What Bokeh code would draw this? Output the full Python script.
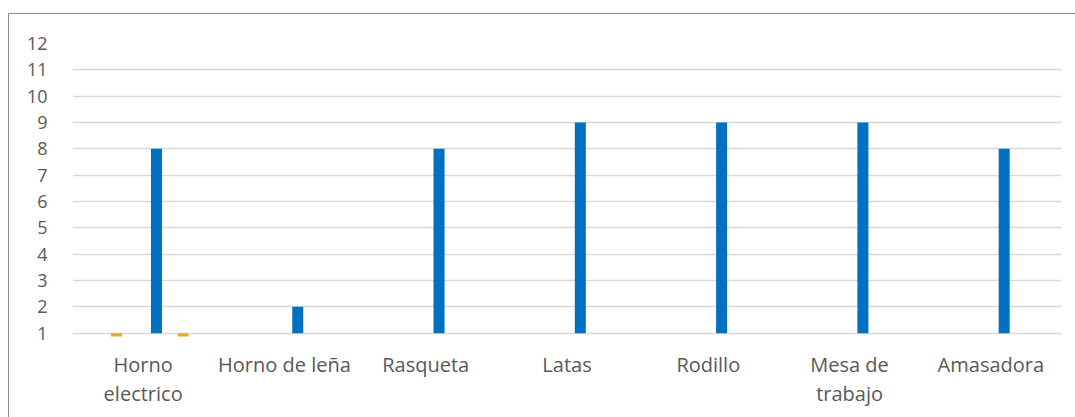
import math
from bokeh.plotting import figure
from bokeh.layouts import column
from bokeh.models import ColumnDataSource, FixedTicker, Range1d
from bokeh.core.properties import value
from bokeh.transform import dodge
from bokeh.embed import file_html
from bokeh.resources import INLINE

# ---- data ----
categories = ["Horno electrico", "Horno de leña", "Rasqueta", "Latas",
              "Rodillo", "Mesa de trabajo", "Amasadora"]
label_line1 = ["Horno", "Horno de leña", "Rasqueta", "Latas",
               "Rodillo", "Mesa de", "Amasadora"]
label_line2 = ["electrico", "", "", "", "", "trabajo", ""]
serie_a = [0, math.nan, math.nan, math.nan, math.nan, math.nan, math.nan]   # yellow, left
serie_b = [8, 2, 8, 9, 9, 9, 8]                                             # blue
serie_c = [0, math.nan, math.nan, math.nan, math.nan, math.nan, math.nan]   # yellow, right
y_ticks = list(range(1, 13))

src = ColumnDataSource(dict(cat=categories, a=serie_a, b=serie_b, c=serie_c,
                            l1=label_line1, l2=label_line2))

W = 1066
p = figure(x_range=categories, y_range=(0.875, 12),
           width=W, height=332, output_backend="svg", toolbar_location=None,
           min_border_left=63, min_border_right=14, min_border_top=29, min_border_bottom=10)

slot = 0.0943
bw = 0.078
yellow = "#E2AE22"
blue = "#0070C0"
txt = "#595959"

p.vbar(x=dodge("cat", -2 * slot, range=p.x_range), top="a", bottom=1, width=bw,
       source=src, fill_color=yellow, line_color=None)
p.vbar(x=dodge("cat", 1 * slot, range=p.x_range), top="b", bottom=1, width=bw,
       source=src, fill_color=blue, line_color=None)
p.vbar(x=dodge("cat", 3 * slot, range=p.x_range), top="c", bottom=1, width=bw,
       source=src, fill_color=yellow, line_color=None)

p.outline_line_color = None
p.xgrid.grid_line_color = None
p.ygrid.grid_line_color = "#d9d9d9"
p.ygrid.grid_line_width = 1.3
p.yaxis.ticker = FixedTicker(ticks=y_ticks)
p.xaxis.visible = False

ax = p.yaxis
ax.axis_line_color = None
ax.major_tick_line_color = None
ax.minor_tick_line_color = None
ax.major_tick_out = 0
ax.major_tick_in = 0
ax.major_label_text_color = txt
ax.major_label_text_font = "Open Sans"
ax.major_label_text_font_size = "18px"
ax.major_label_standoff = 25

# category labels (two lines) in a strip below the plot area
p2 = figure(x_range=p.x_range, y_range=Range1d(0, 71),
            width=W, height=71, output_backend="svg", toolbar_location=None,
            min_border_left=63, min_border_right=14, min_border_top=0, min_border_bottom=0)
p2.xaxis.visible = False
p2.yaxis.visible = False
p2.grid.visible = False
p2.outline_line_color = None
p2.text(x="cat", y=53, text="l1", source=src, text_align="center",
        text_baseline="alphabetic", text_font=value("Open Sans"),
        text_font_size="20px", text_color=txt)
p2.text(x="cat", y=24, text="l2", source=src, text_align="center",
        text_baseline="alphabetic", text_font=value("Open Sans"),
        text_font_size="20px", text_color=txt)

layout = column(p, p2, spacing=0)
layout.margin = (13, 0, 0, 8)
layout.styles = {"border-left": "1px solid #8c8c8c", "border-top": "1px solid #8c8c8c"}

open("out.html", "w").write(file_html(layout, INLINE))
